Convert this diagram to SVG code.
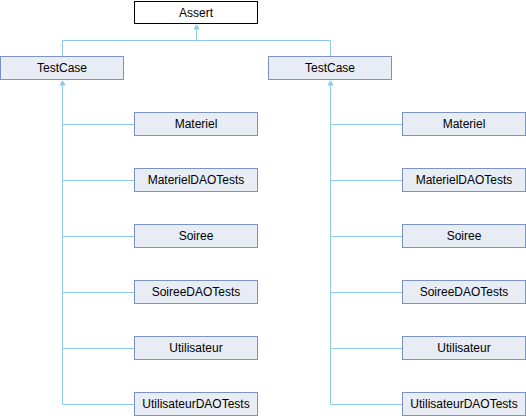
<svg xmlns="http://www.w3.org/2000/svg" width="526" height="416" viewBox="0 0 526 416">
<style>
.n rect{fill:#e8edf5;stroke:#7b92c4;stroke-width:1}
.n.root rect{fill:#ffffff;stroke:#000000}
.n text{font-family:"Liberation Sans",Arial,sans-serif;font-size:12px;fill:#000;text-anchor:middle}
.e line{stroke:#8ecaf0;stroke-width:1;fill:none}
.e polygon{fill:#8ecaf0;stroke:#8ecaf0;stroke-width:1}
</style>
<rect width="526" height="416" fill="#ffffff"/>
<g id="connectors" class="e">
<line x1="196.5" y1="26" x2="196.5" y2="40.5"/>
<line x1="62.5" y1="40.5" x2="330.5" y2="40.5"/>
<line x1="62.5" y1="40.5" x2="62.5" y2="56.5"/>
<line x1="330.5" y1="40.5" x2="330.5" y2="56.5"/>
<polygon points="196.5,25 194,29 199,29"/>
<line x1="62.5" y1="82" x2="62.5" y2="404.5"/>
<polygon points="62.5,81 60,85 65,85"/>
<line x1="62.5" y1="124.5" x2="134.5" y2="124.5"/>
<line x1="62.5" y1="180.5" x2="134.5" y2="180.5"/>
<line x1="62.5" y1="236.5" x2="134.5" y2="236.5"/>
<line x1="62.5" y1="292.5" x2="134.5" y2="292.5"/>
<line x1="62.5" y1="348.5" x2="134.5" y2="348.5"/>
<line x1="62.5" y1="404.5" x2="134.5" y2="404.5"/>
<line x1="330.5" y1="82" x2="330.5" y2="404.5"/>
<polygon points="330.5,81 328,85 333,85"/>
<line x1="330.5" y1="124.5" x2="402.5" y2="124.5"/>
<line x1="330.5" y1="180.5" x2="402.5" y2="180.5"/>
<line x1="330.5" y1="236.5" x2="402.5" y2="236.5"/>
<line x1="330.5" y1="292.5" x2="402.5" y2="292.5"/>
<line x1="330.5" y1="348.5" x2="402.5" y2="348.5"/>
<line x1="330.5" y1="404.5" x2="402.5" y2="404.5"/>
</g>
<g id="Assert" class="n root"><rect x="134.5" y="1.5" width="123" height="22"/><text x="196" y="16.5">Assert</text></g>
<g id="TestCase_L" class="n"><rect x="0.5" y="56.5" width="123" height="23"/><text x="62" y="72">TestCase</text></g>
<g id="TestCase_R" class="n"><rect x="268.5" y="56.5" width="123" height="23"/><text x="330" y="72">TestCase</text></g>
<g id="Materiel_L" class="n"><rect x="134.5" y="112.5" width="123" height="23"/><text x="196" y="128">Materiel</text></g>
<g id="MaterielDAOTests_L" class="n"><rect x="134.5" y="168.5" width="123" height="23"/><text x="196" y="184">MaterielDAOTests</text></g>
<g id="Soiree_L" class="n"><rect x="134.5" y="224.5" width="123" height="23"/><text x="196" y="240">Soiree</text></g>
<g id="SoireeDAOTests_L" class="n"><rect x="134.5" y="280.5" width="123" height="23"/><text x="196" y="296">SoireeDAOTests</text></g>
<g id="Utilisateur_L" class="n"><rect x="134.5" y="336.5" width="123" height="23"/><text x="196" y="352">Utilisateur</text></g>
<g id="UtilisateurDAOTests_L" class="n"><rect x="134.5" y="392.5" width="123" height="23"/><text x="196" y="408">UtilisateurDAOTests</text></g>
<g id="Materiel_R" class="n"><rect x="402.5" y="112.5" width="123" height="23"/><text x="464" y="128">Materiel</text></g>
<g id="MaterielDAOTests_R" class="n"><rect x="402.5" y="168.5" width="123" height="23"/><text x="464" y="184">MaterielDAOTests</text></g>
<g id="Soiree_R" class="n"><rect x="402.5" y="224.5" width="123" height="23"/><text x="464" y="240">Soiree</text></g>
<g id="SoireeDAOTests_R" class="n"><rect x="402.5" y="280.5" width="123" height="23"/><text x="464" y="296">SoireeDAOTests</text></g>
<g id="Utilisateur_R" class="n"><rect x="402.5" y="336.5" width="123" height="23"/><text x="464" y="352">Utilisateur</text></g>
<g id="UtilisateurDAOTests_R" class="n"><rect x="402.5" y="392.5" width="123" height="23"/><text x="464" y="408">UtilisateurDAOTests</text></g>
</svg>
